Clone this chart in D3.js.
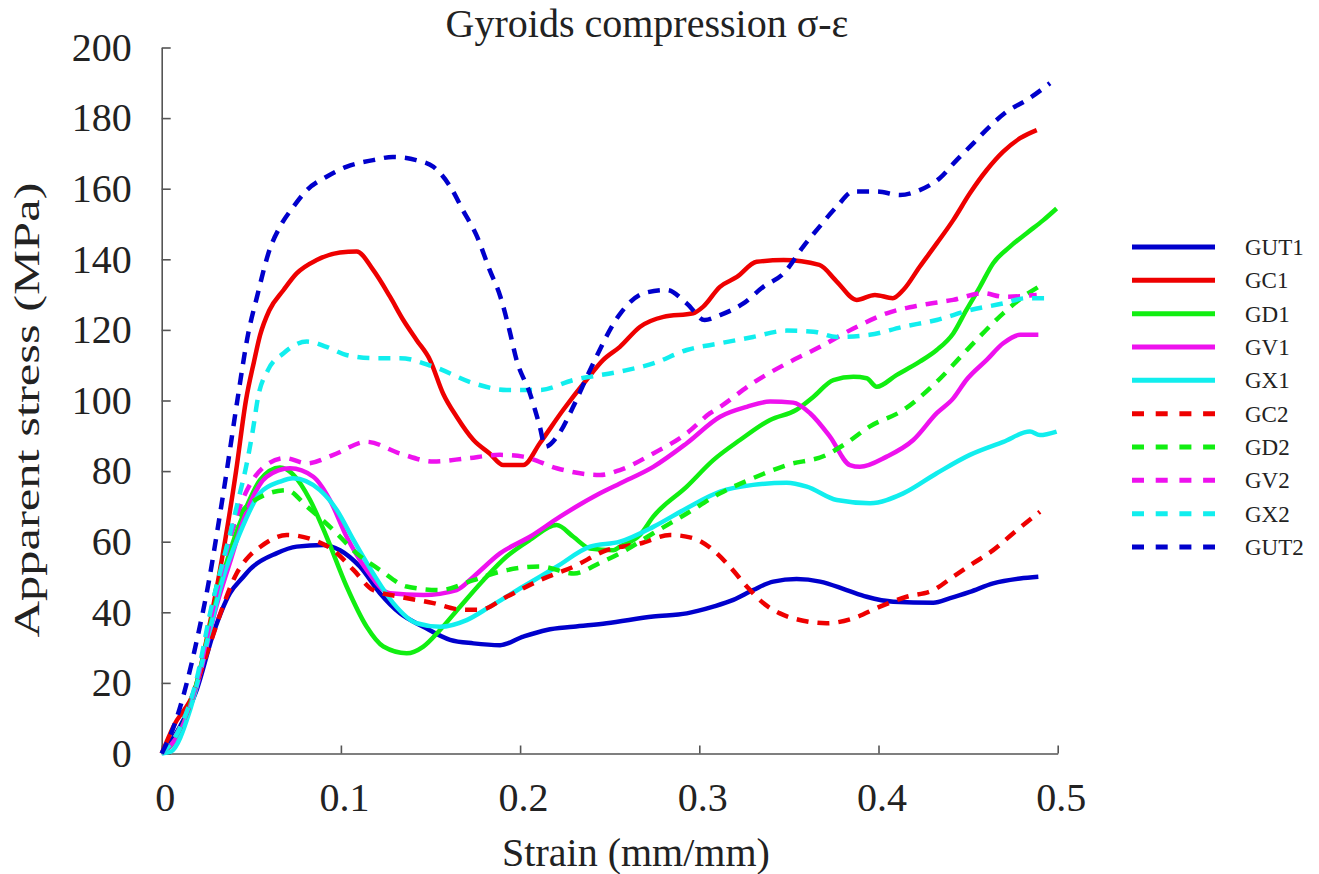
<!DOCTYPE html>
<html>
<head>
<meta charset="utf-8">
<script src="https://cdn.jsdelivr.net/npm/d3@7"></script>
<style>
  html, body { margin: 0; padding: 0; background: #fff; }
  svg { display: block; }
  text { font-family: "Liberation Serif", "Times New Roman", serif; fill: #222; }
</style>
</head>
<body>
<svg id="chart" width="1319" height="874"></svg>
<script>
// ---------- data (strain [mm/mm], apparent stress [MPa]) ----------
const gut1 = [[0,0],[0.0102,7.6],[0.0195,18],[0.0288,34],[0.0381,45.4],[0.0455,50],[0.0493,52.2],[0.064,56.7],[0.0753,58.6],[0.0902,59.1],[0.0995,57.6],[0.1107,52.9],[0.1218,45.4],[0.133,39.7],[0.146,35.9],[0.1609,32.2],[0.174,31.2],[0.1888,30.7],[0.2018,33.1],[0.2148,35],[0.2297,35.9],[0.2483,36.9],[0.2743,38.8],[0.293,39.7],[0.3078,41.6],[0.319,43.5],[0.33,46.3],[0.3413,48.7],[0.3543,49.4],[0.3674,48.7],[0.3822,46.3],[0.3934,44.4],[0.4083,43],[0.4306,42.7],[0.44,44],[0.451,45.8],[0.464,48.2],[0.479,49.6],[0.4892,50.1]];
const gc1 = [[0,0],[0.0065,7.6],[0.0195,19.9],[0.028,39.7],[0.0353,60],[0.0415,80],[0.047,100],[0.0515,111],[0.0549,118.5],[0.06,125.5],[0.068,131.3],[0.0753,136],[0.0865,139.8],[0.0995,141.9],[0.1088,142.2],[0.118,137],[0.1274,129.4],[0.1348,122.8],[0.1423,117.1],[0.1497,111.5],[0.157,102],[0.1646,95.4],[0.174,88.8],[0.183,85],[0.1906,81.7],[0.2018,81.7],[0.211,87.9],[0.224,97.3],[0.237,105.8],[0.2464,111.5],[0.2557,115.2],[0.267,120.9],[0.28,123.7],[0.2966,124.7],[0.3022,126.6],[0.3115,132.2],[0.321,135],[0.332,139.3],[0.347,139.8],[0.367,138.4],[0.3767,133.7],[0.3878,128.5],[0.398,129.9],[0.408,129],[0.4138,131.3],[0.423,137.9],[0.4325,144.5],[0.4417,151.1],[0.451,158.7],[0.4604,165.3],[0.4696,170.5],[0.479,174.3],[0.4883,176.6]];
const gd1 = [[0,0],[0.01,6],[0.019,19],[0.0307,44],[0.0344,51],[0.0474,70],[0.0549,77.5],[0.066,81],[0.0734,79],[0.0828,71.8],[0.092,61.4],[0.1032,47.3],[0.1144,35.9],[0.1237,30.3],[0.1367,28.4],[0.146,30.3],[0.1553,35],[0.1665,41.6],[0.1795,49.1],[0.1925,55.8],[0.2055,60.5],[0.2204,64.7],[0.2297,61.4],[0.239,58.1],[0.252,57.6],[0.2557,58.6],[0.267,62],[0.2743,67.1],[0.293,75.6],[0.3078,83.1],[0.3227,88.8],[0.3395,94.5],[0.354,97.3],[0.3636,101],[0.3748,105.8],[0.386,106.7],[0.3934,106.3],[0.399,103.9],[0.41,107.2],[0.423,111],[0.4325,114.3],[0.4417,119],[0.449,125.6],[0.4566,132.2],[0.464,138.9],[0.4734,143.6],[0.4827,147.4],[0.492,151.1],[0.4994,154.4]];
const gv1 = [[0,0],[0.01,6],[0.019,18],[0.0307,42],[0.038,54],[0.0455,66],[0.0586,78.4],[0.0716,80.8],[0.0846,78.4],[0.0939,71.8],[0.1032,61.4],[0.1144,52],[0.1274,45.4],[0.146,44.9],[0.1646,46.3],[0.174,50.1],[0.1888,56.7],[0.2055,61.4],[0.2223,67.1],[0.2446,73.7],[0.2557,76.5],[0.2743,81.2],[0.293,87.9],[0.3116,95.4],[0.3265,98.2],[0.3395,99.7],[0.3524,99.4],[0.3618,96.4],[0.373,89.7],[0.384,81.7],[0.3896,81.2],[0.4046,84.1],[0.4194,88.8],[0.4325,96.4],[0.4417,100.6],[0.449,105.8],[0.4604,111.5],[0.4696,116.2],[0.479,118.6],[0.4892,118.6]];
const gx1 = [[0,0],[0.005,0.5],[0.0158,12.3],[0.0251,31.2],[0.0344,50],[0.0437,62.5],[0.0549,73.8],[0.066,77],[0.0733,78],[0.0883,74.6],[0.0977,69],[0.107,60.5],[0.118,51],[0.1292,42.6],[0.1423,36.9],[0.1553,35.9],[0.1702,37.8],[0.1832,41.6],[0.2018,47.3],[0.2204,52.9],[0.239,58.6],[0.2557,60],[0.2743,64.2],[0.293,69.5],[0.3116,74.2],[0.33,76.1],[0.3488,76.7],[0.36,75.6],[0.3767,71.8],[0.3953,70.9],[0.4138,73.7],[0.4325,79.4],[0.451,84.6],[0.4697,88.3],[0.4845,91.2],[0.49,90.2],[0.4994,91.2]];
const gc2 = [[0,0],[0.01,7],[0.019,19],[0.027,31],[0.0344,42],[0.0418,51],[0.049,56],[0.0549,58.5],[0.0698,61.9],[0.0846,60.5],[0.0958,57.6],[0.107,52],[0.118,46.3],[0.133,44.4],[0.1516,42.6],[0.1665,40.8],[0.1776,40.7],[0.1925,44.4],[0.211,49.1],[0.2297,52.9],[0.2483,57.6],[0.267,59.5],[0.2836,61.9],[0.2966,61],[0.3078,57.6],[0.3171,52.9],[0.3265,47.3],[0.3357,42.6],[0.345,39.7],[0.358,37.6],[0.371,36.9],[0.386,38.3],[0.4008,41.6],[0.4157,44.4],[0.4306,46.3],[0.4417,50.1],[0.4529,53.9],[0.464,57.6],[0.4752,62.4],[0.4901,68.5]];
const gd2 = [[0,0],[0.01,7],[0.019,19],[0.03,46],[0.04,64],[0.0511,71.5],[0.0698,74.6],[0.081,70],[0.0958,63.3],[0.1088,56.7],[0.1218,52],[0.1367,47.3],[0.1553,46.3],[0.174,49.1],[0.1888,51.5],[0.211,53],[0.23,51],[0.2446,54],[0.2557,56.7],[0.2743,62.4],[0.293,68],[0.3116,73.7],[0.33,78],[0.3488,81.7],[0.371,84.6],[0.382,87.9],[0.395,92.6],[0.4138,97.3],[0.4325,105.3],[0.451,115.2],[0.4696,124.7],[0.4808,129.4],[0.491,132.7]];
const gv2 = [[0,0],[0.01,7],[0.019,19],[0.029,42],[0.0365,58],[0.0437,70],[0.0566,81],[0.0688,83.7],[0.081,82.2],[0.0958,84.6],[0.1144,88.3],[0.133,85],[0.1516,82.7],[0.17,83.6],[0.1888,84.6],[0.2018,84.1],[0.2204,80.8],[0.2446,78.9],[0.2557,80.3],[0.2743,85],[0.293,90.7],[0.306,96.4],[0.3116,98.2],[0.33,105],[0.3488,110.5],[0.3674,115.2],[0.386,120.4],[0.4046,124.7],[0.4232,127],[0.4417,128.5],[0.4585,130.4],[0.4696,129.4],[0.4883,129.9]];
const gx2 = [[0,0],[0.01,7],[0.019,20],[0.028,42],[0.033,52],[0.039,64],[0.0433,73],[0.047,81],[0.051,92],[0.0538,101],[0.0593,108.6],[0.068,113.4],[0.081,116.7],[0.092,115.2],[0.103,112.9],[0.118,112],[0.133,112],[0.1516,109.6],[0.174,104.9],[0.1925,103],[0.211,103],[0.2297,105.8],[0.2557,108.2],[0.2743,110.5],[0.293,114.3],[0.3115,116.2],[0.33,118],[0.3488,119.8],[0.3636,119.5],[0.3767,118],[0.395,118.6],[0.4138,120.9],[0.4325,122.8],[0.451,125.6],[0.4697,127.5],[0.4827,129],[0.4948,129]];
const gut2 = [[0,0],[0.007,8],[0.014,20],[0.02,33],[0.0264,49],[0.0307,62],[0.0363,80],[0.0422,100],[0.0483,119],[0.053,129],[0.0604,143],[0.066,149.2],[0.0735,154.9],[0.081,159.6],[0.092,163.4],[0.103,166.2],[0.118,168.1],[0.129,169],[0.142,168.1],[0.1516,166.2],[0.161,160.6],[0.168,154],[0.176,146.4],[0.183,137],[0.189,129.4],[0.194,120],[0.198,111.5],[0.2055,102],[0.211,92.6],[0.214,86.9],[0.222,90.8],[0.2296,98.2],[0.239,108.6],[0.256,124.7],[0.269,130.4],[0.282,131.3],[0.293,127.5],[0.303,122.8],[0.3116,124.2],[0.3246,127.5],[0.3357,132.2],[0.347,136],[0.358,143.6],[0.367,149.2],[0.3767,154.9],[0.386,159.2],[0.399,159.2],[0.412,158.2],[0.423,159.6],[0.434,162.9],[0.4436,168.1],[0.453,172.9],[0.462,177.6],[0.4715,181.8],[0.4827,185.1],[0.4957,189.9]];

const seriesNames  = ["GUT1","GC1","GD1","GV1","GX1","GC2","GD2","GV2","GX2","GUT2"];
const seriesValues = [gut1, gc1, gd1, gv1, gx1, gc2, gd2, gv2, gx2, gut2];
const seriesColors = ["#0000cc","#ee0000","#11ee11","#ee11ee","#11eeee","#ee0000","#11ee11","#ee11ee","#11eeee","#0000cc"];
const seriesDashed = [false,false,false,false,false,true,true,true,true,true];

const xTicks = [0, 0.1, 0.2, 0.3, 0.4, 0.5];
const xTickLabels = ["0","0.1","0.2","0.3","0.4","0.5"];
const yTicks = [0,20,40,60,80,100,120,140,160,180,200];

const titleText = "Gyroids compression σ-ε";
const xLabel = "Strain (mm/mm)";
const yLabel = "Apparent stress (MPa)";

// ---------- drawing ----------
const svg = d3.select("#chart");
svg.append("rect").attr("width", 1319).attr("height", 874).attr("fill", "#fff");

const x = d3.scaleLinear().domain([0, 0.5]).range([161.7, 1057.7]);
const y = d3.scaleLinear().domain([0, 200]).range([753.5, 47.5]);

const axisColor = "#555";

// X axis
const gx = svg.append("g").attr("transform", `translate(0,${y(0)})`)
  .call(d3.axisBottom(x).tickValues(xTicks)
    .tickFormat((d, i) => xTickLabels[i])
    .tickSizeInner(-8).tickSizeOuter(0).tickPadding(29));
gx.select(".domain").attr("stroke", axisColor).attr("stroke-width", 1.6);
gx.selectAll(".tick line").attr("stroke", axisColor).attr("stroke-width", 1.6);
gx.selectAll(".tick text").attr("font-size", 40).attr("font-family", "Liberation Serif").attr("fill", "#222").attr("dx", 3);

// Y axis
const gy = svg.append("g").attr("transform", `translate(${x(0)},0)`)
  .call(d3.axisLeft(y).tickValues(yTicks).tickFormat(d3.format("d"))
    .tickSizeInner(-9).tickSizeOuter(0).tickPadding(30));
gy.select(".domain").attr("stroke", axisColor).attr("stroke-width", 1.6);
gy.selectAll(".tick line").attr("stroke", axisColor).attr("stroke-width", 1.6);
gy.selectAll(".tick text").attr("font-size", 40).attr("font-family", "Liberation Serif").attr("fill", "#222");

// Lines
const line = d3.line()
  .x(d => x(d[0]))
  .y(d => y(d[1]))
  .curve(d3.curveMonotoneX);

const plot = svg.append("g");
seriesValues.forEach((vals, i) => {
  plot.append("path")
    .datum(vals)
    .attr("d", line)
    .attr("fill", "none")
    .attr("stroke", seriesColors[i])
    .attr("stroke-width", 4.5)
    .attr("stroke-linejoin", "round")
    .attr("stroke-dasharray", seriesDashed[i] ? "12,9" : null);
});

// Title & axis labels
svg.append("text").attr("x", 647).attr("y", 37).attr("text-anchor", "middle")
  .attr("font-size", 40).text(titleText);
svg.append("text").attr("x", 636).attr("y", 866).attr("text-anchor", "middle")
  .attr("font-size", 40).text(xLabel);
svg.append("text")
  .attr("transform", "translate(39,410) rotate(-90)")
  .attr("text-anchor", "middle")
  .attr("font-size", 36)
  .attr("textLength", 455).attr("lengthAdjust", "spacingAndGlyphs")
  .text(yLabel);

// Legend
const legend = svg.append("g");
const legY = d3.scaleLinear().domain([0, 9]).range([247, 547]);
seriesNames.forEach((name, i) => {
  const ly = legY(i);
  legend.append("line")
    .attr("x1", 1132).attr("x2", 1215).attr("y1", ly).attr("y2", ly)
    .attr("stroke", seriesColors[i]).attr("stroke-width", 5)
    .attr("stroke-dasharray", seriesDashed[i] ? "12,11.7" : null);
  legend.append("text")
    .attr("x", 1245).attr("y", ly + 8)
    .attr("font-size", 23).text(name);
});
</script>
</body>
</html>
